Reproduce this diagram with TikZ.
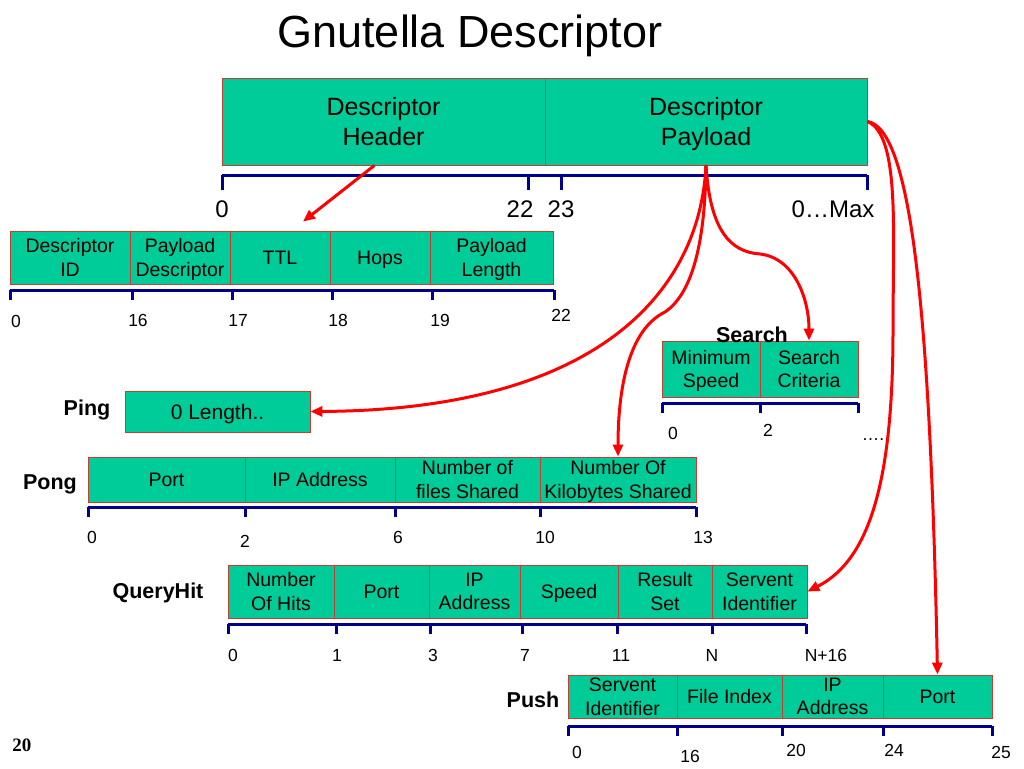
\documentclass[tikz,border=0pt]{standalone}
\usepackage{fontspec}
\setmainfont{Liberation Sans}
\newfontfamily\slidenumfont{Liberation Serif}
\usetikzlibrary{arrows.meta,calc}
\definecolor{fieldgreen}{RGB}{0,204,153}
\definecolor{fieldline}{RGB}{200,60,50}
\definecolor{rulerblue}{RGB}{0,0,140}
\definecolor{arrowred}{RGB}{255,0,0}
\tikzset{
 field/.style={draw=fieldline, fill=fieldgreen, line width=0.8pt, inner sep=0pt, align=center,
   font=\fontsize{19.5}{23.5}\selectfont, text depth=0pt},
 bigfield/.style={field, font=\fontsize{25}{30}\selectfont},
 ruler/.style={draw=rulerblue, line width=3pt},
 ticklab/.style={font=\fontsize{17.5}{20}\selectfont, inner sep=0pt},
 bigticklab/.style={font=\fontsize{24}{28}\selectfont, inner sep=0pt},
 msglabel/.style={font=\bfseries\fontsize{21.5}{25}\selectfont, inner sep=0pt},
 link/.style={draw=arrowred, line width=3pt, -{Triangle[length=12pt,width=10pt]}},
}
\begin{document}
\begin{tikzpicture}[x=1pt,y=-1pt]
\useasboundingbox (0,0) rectangle (1024,768);

% title
\node[font=\fontsize{45}{54}\selectfont, inner sep=0pt, anchor=base] (title) at (470,48) {Gnutella Descriptor};

% main descriptor
\node[bigfield, minimum width=323pt, minimum height=87pt] (hdr) at (383.5,121.5) {Descriptor\\Header};
\node[bigfield, minimum width=322pt, minimum height=87pt] (pay) at (706,121.5) {Descriptor\\Payload};
\draw[ruler] (222,175) -- (867,175);
\foreach \x in {222,528,561,867} \draw[ruler] (\x,175) -- (\x,190);
\node[bigticklab] (m0) at (222,209) {0};
\node[bigticklab] (m22) at (520,209) {22};
\node[bigticklab] (m23) at (561,209) {23};
\node[bigticklab] (mmax) at (833,209) {0\ldots Max};

% header fields
\node[field, minimum width=120pt, minimum height=53pt] (did) at (70,257.5) {Descriptor\\ID};
\node[field, minimum width=100pt, minimum height=53pt] (pd) at (180,257.5) {Payload\\Descriptor};
\node[field, minimum width=100pt, minimum height=53pt] (ttl) at (280,257.5) {TTL};
\node[field, minimum width=100pt, minimum height=53pt] (hops) at (380,257.5) {Hops};
\node[field, minimum width=123pt, minimum height=53pt] (pl) at (491.5,257.5) {Payload\\Length};
\draw[ruler] (10,290) -- (554,290);
\foreach \x in {10,132,232,332,432,554} \draw[ruler] (\x,290) -- (\x,300);
\node[ticklab] (h0) at (16,321) {0};
\node[ticklab] (h16) at (138,320) {16};
\node[ticklab] (h17) at (238,320) {17};
\node[ticklab] (h18) at (338,320) {18};
\node[ticklab] (h19) at (440,320) {19};
\node[ticklab] (h22) at (561,315) {22};

% search
\node[field, minimum width=98pt, minimum height=56pt] (ms) at (711,369) {Minimum\\Speed};
\node[field, minimum width=98pt, minimum height=56pt] (sc) at (809,369) {Search\\Criteria};
\node[msglabel] (searchlab) at (752,335) {Search};
\draw[ruler] (662,403) -- (858,403);
\foreach \x in {662,760,858} \draw[ruler] (\x,403) -- (\x,413);
\node[ticklab] (s0) at (673,433) {0};
\node[ticklab] (s2) at (768,430) {2};
\node[ticklab, anchor=base] (sdots) at (873,440) {\ldots.};

% ping
\node[msglabel] (pinglab) at (87,410) {Ping};
\node[field, font=\fontsize{21}{25}\selectfont, minimum width=185pt, minimum height=41pt] (ping) at (217.5,411.5) {0 Length..};

% pong
\node[msglabel] (ponglab) at (50,484) {Pong};
\node[field, minimum width=157pt, minimum height=45pt] (pport) at (166.5,479.5) {Port};
\node[field, minimum width=150pt, minimum height=45pt] (pip) at (320,479.5) {IP Address};
\node[field, minimum width=145pt, minimum height=45pt] (nf) at (467.5,479.5) {Number of\\files Shared};
\node[field, minimum width=156pt, minimum height=45pt] (nk) at (618,479.5) {Number Of\\Kilobytes Shared};
\draw[ruler] (88,507) -- (696,507);
\foreach \x in {88,245,395,540,696} \draw[ruler] (\x,507) -- (\x,517);
\node[ticklab] (p0) at (92,537) {0};
\node[ticklab] (p2) at (245,541) {2};
\node[ticklab] (p6) at (398,537) {6};
\node[ticklab] (p10) at (545,537) {10};
\node[ticklab] (p13) at (703,537) {13};

% queryhit
\node[msglabel] (qhlab) at (158,593) {QueryHit};
\node[field, minimum width=106pt, minimum height=53pt] (qnh) at (281,591.5) {Number\\Of Hits};
\node[field, minimum width=95pt, minimum height=53pt] (qport) at (381.5,591.5) {Port};
\node[field, minimum width=91pt, minimum height=53pt] (qip) at (474.5,591.5) {IP\\Address};
\node[field, minimum width=98pt, minimum height=53pt] (qspeed) at (569,591.5) {Speed};
\node[field, minimum width=94pt, minimum height=53pt] (qrs) at (665,591.5) {Result\\Set};
\node[field, minimum width=95pt, minimum height=53pt] (qsi) at (759.5,591.5) {Servent\\Identifier};
\draw[ruler] (228,624) -- (806,624);
\foreach \x in {228,336,430,522,617,712,806} \draw[ruler] (\x,624) -- (\x,634);
\node[ticklab] (q0) at (233,655) {0};
\node[ticklab] (q1) at (337,655) {1};
\node[ticklab] (q3) at (433,655) {3};
\node[ticklab] (q7) at (525,655) {7};
\node[ticklab] (q11) at (621,655) {11};
\node[ticklab] (qn) at (712,655) {N};
\node[ticklab] (qn16) at (826,655) {N+16};

% push
\node[msglabel] (pushlab) at (533,700) {Push};
\node[field, minimum width=109pt, minimum height=43pt] (usi) at (622.5,696.5) {Servent\\Identifier};
\node[field, minimum width=105pt, minimum height=43pt] (ufi) at (729.5,696.5) {File Index};
\node[field, minimum width=101pt, minimum height=43pt] (uip) at (832.5,696.5) {IP\\Address};
\node[field, minimum width=109pt, minimum height=43pt] (uport) at (937.5,696.5) {Port};
\draw[ruler] (568,726) -- (992,726);
\foreach \x in {568,677,782,883,992} \draw[ruler] (\x,726) -- (\x,736);
\node[ticklab] (u0) at (577,752) {0};
\node[ticklab] (u16) at (690,756) {16};
\node[ticklab] (u20) at (796,750) {20};
\node[ticklab] (u24) at (894,750) {24};
\node[ticklab] (u25) at (1001,752) {25};

% slide number
\node[font=\slidenumfont\bfseries\fontsize{19}{22}\selectfont, inner sep=0pt] (slnum) at (22,745) {20};

% arrows
\draw[link] ($(hdr.south)+(-9,0)$) -- ($(ttl.north)+(23,-9)$);
\draw[link] (pay.south) .. controls (700,290) and (600,410) .. (ping.east);
\draw[link] (pay.south) .. controls (705,250) and (690,295) .. (665,312) .. controls (628,330) and (618,390) .. (nk.north);
\draw[link] (pay.south) .. controls (710,230) and (730,252) .. (760,254) .. controls (795,258) and (809,300) .. (sc.north);
\draw[link] (pay.east) .. controls (900,135) and (893,230) .. (893,330) .. controls (893,480) and (870,560) .. (qsi.east);
\draw[link] (pay.east) .. controls (910,128) and (930,300) .. (uport.north);
\end{tikzpicture}
\end{document}
